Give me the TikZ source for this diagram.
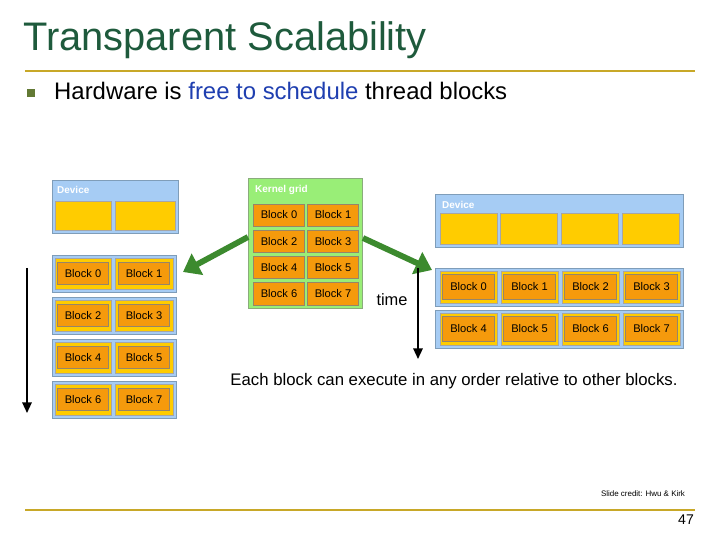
\documentclass[tikz,border=0pt]{standalone}
\usepackage{fontspec}
\setmainfont{Liberation Sans}
\usetikzlibrary{arrows.meta}
\definecolor{ttl}{HTML}{1E5A3C}
\definecolor{gold}{HTML}{C8A828}
\definecolor{devb}{HTML}{A6CCF4}
\definecolor{devd}{HTML}{7F9DB9}
\definecolor{yel}{HTML}{FFCC00}
\definecolor{ora}{HTML}{F59A0C}
\definecolor{grn}{HTML}{99EE77}
\definecolor{arr}{HTML}{3C8A2E}
\definecolor{bl}{HTML}{1F3FB0}
\tikzset{
 dev/.style={draw=devd,fill=devb,line width=0.8pt},
 yc/.style={draw=gray!70,fill=yel,line width=0.6pt},
 oc/.style={draw=gray!80!ora,fill=ora,line width=0.6pt,font=\fontsize{9.5}{10}\selectfont,inner sep=0pt},
 lbl/.style={anchor=west,text=white,font=\fontsize{8.5}{9}\bfseries\selectfont,inner sep=0pt},
 garrow/.style={arr,line width=5pt,-{Triangle[length=14pt,width=20pt]}},
 tarrow/.style={black,line width=1.5pt,-{Triangle[length=9pt,width=8pt]}}
}
\begin{document}
\begin{tikzpicture}[x=0.03cm,y=-0.03cm]
\useasboundingbox (0,0) rectangle (720,540);
\node[anchor=west,text=ttl,font=\fontsize{34}{36}\selectfont,inner sep=0pt] (title) at (23,40) {Transparent Scalability};
\draw[gold,line width=2pt] (25,71) -- (695,71);
\node[fill=ttl!60!gold,minimum size=7pt,inner sep=0pt] (bul) at (31,93) {};
\node[anchor=west,font=\fontsize{20.4}{22}\selectfont,inner sep=0pt] (hw) at (54,91) {Hardware is \textcolor{bl}{free to schedule} thread blocks};
% left device
\draw[dev] (52,180) rectangle (178,233);
\node[lbl] (ld) at (57,190) {Device};
\draw[yc] (55,201) rectangle (111,230);
\draw[yc] (115,201) rectangle (175,230);
% left rows
\foreach \r/\a/\b in {0/0/1,1/2/3,2/4/5,3/6/7}{
 \pgfmathsetmacro\yy{255+\r*42}
 \draw[dev] (52,\yy) rectangle (176,\yy+37);
 \draw[yc] (55,\yy+3) rectangle (111,\yy+34);
 \draw[yc] (115,\yy+3) rectangle (173,\yy+34);
 \node[oc,minimum width=44pt,minimum height=19pt] (l\a) at (83,\yy+18.5) {Block \a};
 \node[oc,minimum width=44pt,minimum height=19pt] (l\b) at (144,\yy+18.5) {Block \b};
}
% kernel grid
\draw[draw=gray!60!grn,fill=grn,line width=0.8pt] (248,178) rectangle (362,308);
\node[lbl] (kg) at (255,190) {Kernel grid};
\foreach \r/\a/\b in {0/0/1,1/2/3,2/4/5,3/6/7}{
 \pgfmathsetmacro\yy{204+\r*26.3}
 \node[oc,minimum width=43pt,minimum height=19pt] (k\a) at (279,\yy+11) {Block \a};
 \node[oc,minimum width=43pt,minimum height=19pt] (k\b) at (333,\yy+11) {Block \b};
}
% right device
\draw[dev] (435,194) rectangle (683,247);
\node[lbl] (rd) at (442,205) {Device};
\foreach \x in {440,500,561,622}{\draw[yc] (\x,213) rectangle (\x+57,244);}
\foreach \r/\s in {0/0,1/4}{
 \pgfmathsetmacro\yy{268+\r*42}
 \draw[dev] (435,\yy) rectangle (683,\yy+38);
 \foreach \i in {0,1,2,3}{
  \pgfmathtruncatemacro\n{\s+\i}
  \pgfmathsetmacro\xx{440+\i*61}
  \draw[yc] (\xx,\yy+3) rectangle (\xx+57,\yy+35);
  \node[oc,minimum width=44pt,minimum height=21pt] (r\n) at (\xx+28.5,\yy+19) {Block \n};
 }
}
% arrows
\coordinate (a1s) at (248,237);
\coordinate (a1e) at (183,272);
\draw[garrow] (a1s) -- (a1e);
\coordinate (a2s) at (363,238);
\coordinate (a2e) at (432,270);
\draw[garrow] (a2s) -- (a2e);
\coordinate (t1s) at (27,268);
\coordinate (t1e) at (27,413);
\draw[tarrow] (t1s) -- (t1e);
\coordinate (t2s) at (418,268);
\coordinate (t2e) at (418,359);
\draw[tarrow] (t2s) -- (t2e);
\node[font=\fontsize{14}{15}\selectfont,inner sep=0pt] (time) at (392,300) {time};
\node[font=\fontsize{14.3}{15}\selectfont,inner sep=0pt] (cap) at (454,381) {Each block can execute in any order relative to other blocks.};
\node[font=\fontsize{6.8}{7}\selectfont,inner sep=0pt] (cred) at (643,494) {Slide credit: Hwu \& Kirk};
\draw[gold,line width=2pt] (25,510) -- (695,510);
\node[font=\fontsize{12}{13}\selectfont,inner sep=0pt] (pg) at (686,520) {47};
\end{tikzpicture}
\end{document}
